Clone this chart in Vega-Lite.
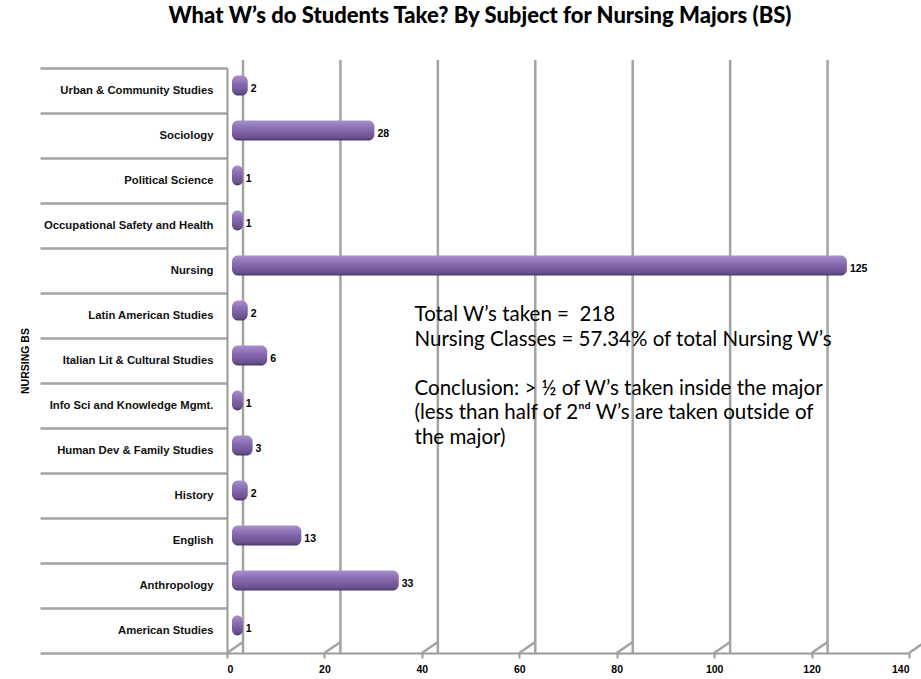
{
  "$schema": "https://vega.github.io/schema/vega-lite/v6.json",
  "width": 682,
  "height": 585,
  "autosize": {"type": "none"},
  "padding": {"left": 227, "top": 68, "right": 12, "bottom": 26},
  "background": "white",
  "title": {
    "text": "What W’s do Students Take? By Subject for Nursing Majors (BS)",
    "font": "Lato",
    "fontSize": 22,
    "fontWeight": 900,
    "color": "#000000",
    "anchor": "middle",
    "dx": -88,
    "offset": 31
  },
  "config": {"view": {"stroke": null}},
  "datasets": {
    "w": [
      {"subject": "Urban & Community Studies", "n": 2},
      {"subject": "Sociology", "n": 28},
      {"subject": "Political Science", "n": 1},
      {"subject": "Occupational Safety and Health", "n": 1},
      {"subject": "Nursing", "n": 125},
      {"subject": "Latin American Studies", "n": 2},
      {"subject": "Italian Lit & Cultural Studies", "n": 6},
      {"subject": "Info Sci and Knowledge Mgmt.", "n": 1},
      {"subject": "Human Dev & Family Studies", "n": 3},
      {"subject": "History", "n": 2},
      {"subject": "English", "n": 13},
      {"subject": "Anthropology", "n": 33},
      {"subject": "American Studies", "n": 1}
    ],
    "grid": [{"g": 0}, {"g": 20}, {"g": 40}, {"g": 60}, {"g": 80}, {"g": 100}, {"g": 120}, {"g": 140}]
  },
  "layer": [
    {
      "data": {"name": "grid"},
      "mark": {"type": "rule", "color": "#a3a3a3", "strokeWidth": 2.5, "xOffset": 16, "yOffset": -8, "y2Offset": -11},
      "encoding": {
        "x": {"field": "g", "type": "quantitative", "scale": {"domain": [0, 140]}}
      }
    },
    {
      "data": {"name": "grid"},
      "mark": {"type": "rule", "color": "#a3a3a3", "strokeWidth": 2.5, "x2Offset": 16, "y2Offset": -11},
      "encoding": {
        "x": {"field": "g", "type": "quantitative"},
        "x2": {"field": "g"},
        "y": {"datum": "American Studies", "type": "nominal", "bandPosition": 1},
        "y2": {"datum": "American Studies", "bandPosition": 1}
      }
    },
    {
      "data": {"name": "w"},
      "mark": {
        "type": "bar",
        "height": 20,
        "yOffset": -5,
        "xOffset": 11,
        "x2Offset": 5,
        "cornerRadius": 6,
        "color": {
          "gradient": "linear",
          "x1": 0, "y1": 0, "x2": 0, "y2": 1,
          "stops": [
            {"offset": 0, "color": "#a790cc"},
            {"offset": 0.45, "color": "#8568ad"},
            {"offset": 0.85, "color": "#6a528f"},
            {"offset": 1, "color": "#4a3768"}
          ]
        }
      },
      "encoding": {
        "y": {
          "field": "subject",
          "type": "nominal",
          "scale": {"domain": ["Urban & Community Studies", "Sociology", "Political Science", "Occupational Safety and Health", "Nursing", "Latin American Studies", "Italian Lit & Cultural Studies", "Info Sci and Knowledge Mgmt.", "Human Dev & Family Studies", "History", "English", "Anthropology", "American Studies"]},
          "axis": {
            "title": "NURSING  BS",
            "titleFont": "Liberation Sans",
            "titleFontSize": 10.5,
            "titleFontWeight": "bold",
            "titleColor": "#000000",
            "titlePadding": 8,
            "domainColor": "#999999",
            "domainWidth": 2,
            "tickBand": "extent",
            "tickSize": 187,
            "tickColor": "#a3a3a3",
            "tickWidth": 2.5,
            "labelPadding": -173,
            "labelFont": "Liberation Sans",
            "labelFontSize": 11.3,
            "labelFontWeight": "bold",
            "labelColor": "#111111",
            "labelLimit": 0,
            "grid": false
          }
        },
        "x": {
          "field": "n",
          "type": "quantitative",
          "scale": {"domain": [0, 140]},
          "axis": {
            "title": null,
            "values": [0, 20, 40, 60, 80, 100, 120, 140],
            "grid": false,
            "domainColor": "#999999",
            "domainWidth": 2,
            "tickColor": "#999999",
            "tickWidth": 2,
            "tickSize": 5,
            "labelFont": "Liberation Sans",
            "labelFontSize": 10.5,
            "labelFontWeight": "bold",
            "labelColor": "#000000",
            "labelPadding": 6
          }
        },
        "x2": {"datum": 0}
      }
    },
    {
      "data": {"name": "w"},
      "mark": {"type": "text", "align": "left", "baseline": "middle", "xOffset": 14, "yOffset": -2, "font": "Liberation Sans", "fontSize": 10.5, "fontWeight": "bold", "color": "#000000"},
      "encoding": {
        "y": {"field": "subject", "type": "nominal"},
        "x": {"field": "n", "type": "quantitative"},
        "text": {"field": "n", "type": "quantitative"}
      }
    },
    {
      "data": {"values": [{"note": "totals"}]},
      "mark": {
        "type": "text",
        "align": "left",
        "baseline": "top",
        "font": "Lato",
        "fontSize": 20.5,
        "lineHeight": 25,
        "yOffset": -11,
        "color": "#000000",
        "text": ["Total W’s taken =\u00a0 218", "Nursing Classes = 57.34% of total Nursing W’s"]
      },
      "encoding": {
        "x": {"datum": 38.5, "type": "quantitative"},
        "y": {"datum": "Latin American Studies", "type": "nominal"}
      }
    },
    {
      "data": {"values": [{"note": "conclusion"}]},
      "mark": {
        "type": "text",
        "align": "left",
        "baseline": "top",
        "font": "Lato",
        "fontSize": 20.5,
        "lineHeight": 24.5,
        "yOffset": 18,
        "color": "#000000",
        "text": ["Conclusion: > ½ of W’s taken inside the major", "(less than half of 2ⁿᵈ W’s are taken outside of", "the major)"]
      },
      "encoding": {
        "x": {"datum": 38.5, "type": "quantitative"},
        "y": {"datum": "Italian Lit & Cultural Studies", "type": "nominal"}
      }
    }
  ]
}
